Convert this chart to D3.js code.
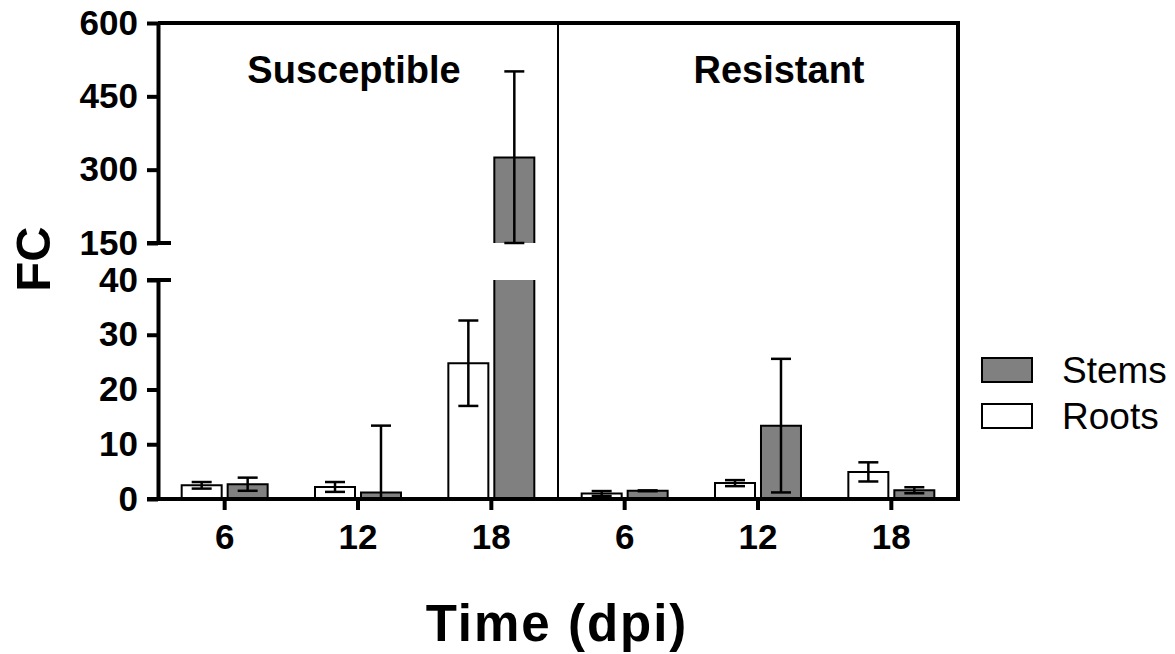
<!DOCTYPE html>
<html>
<head>
<meta charset="utf-8">
<script src="https://cdn.jsdelivr.net/npm/d3@7"></script>
<style>
  body { margin: 0; background: #fff; }
  svg { font-family: "Liberation Sans", Arial, sans-serif; }
</style>
</head>
<body>
<div id="chart"></div>
<script>
// chart values
var groups = ["Susceptible", "Resistant"]
var times = ["6", "12", "18"]
var series = ["Roots", "Stems"]
var rootsMean = [2.5, 2.2, 24.8, 1.0, 2.9, 4.95]
var rootsErr = [0.6, 0.9, 7.8, 0.45, 0.55, 1.75]
var stemsMean = [2.7, 1.2, 325, 1.5, 13.4, 1.6]
var stemsErr = [1.2, 12.2, 176, 0.08, 12.2, 0.55]
var lowTicks = [0, 10, 20, 30, 40]
var highTicks = [150, 300, 450, 600]

var width = 1175, height = 654
var left = 158, right = 958, bottom = 499
var lowTop = 280, highBottom = 243, topY = 23

var svg = d3.select("#chart").append("svg")
    .attr("width", width)
    .attr("height", height)

// one band per group/time pair
var keys = []
groups.forEach(function(g) {
  times.forEach(function(t) { keys.push(g + ":" + t) })
})

var data = keys.map(function(k, i) {
  return {
    key: k,
    values: [
      { s: "Roots", mean: rootsMean[i], err: rootsErr[i] },
      { s: "Stems", mean: stemsMean[i], err: stemsErr[i] }
    ]
  }
})

var x = d3.scaleBand().domain(keys).range([left, right])
var xs = d3.scaleBand().domain(series).range([0, x.bandwidth()])
    .paddingInner(0.13).paddingOuter(0.515)
var yLow = d3.scaleLinear().domain([0, 40]).range([bottom, lowTop])
var yHigh = d3.scaleLinear().domain([150, 600]).range([highBottom, topY])

var fill = { Roots: "#ffffff", Stems: "#808080" }

var bar = svg.selectAll("g.grp")
    .data(data)
  .enter().append("g")
    .attr("class", "grp")
    .attr("transform", function(d) { return "translate(" + x(d.key) + ",0)" })
  .selectAll("g.bar")
    .data(function(d) { return d.values })
  .enter().append("g")
    .attr("class", "bar")

// outline of a bar piece; the edge at the axis break stays open
function piece(x0, w, yb, yt, openTop, openBottom) {
  var p = "M" + x0 + "," + yb + "V" + yt
  p += openTop ? "M" + (x0 + w) + "," + yt : "H" + (x0 + w)
  p += "V" + yb
  if (!openBottom) p += "H" + x0
  return p
}

// lower piece
bar.append("rect")
    .attr("x", function(d) { return xs(d.s) })
    .attr("width", xs.bandwidth())
    .attr("y", function(d) { return yLow(Math.min(d.mean, 40)) })
    .attr("height", function(d) { return bottom - yLow(Math.min(d.mean, 40)) })
    .style("fill", function(d) { return fill[d.s] })
bar.append("path")
    .attr("d", function(d) {
      return piece(xs(d.s), xs.bandwidth(), bottom, yLow(Math.min(d.mean, 40)), d.mean > 40, false)
    })
    .style("fill", "none")
    .style("stroke", "#000")
    .style("stroke-width", 2)

// upper piece, only for the bar above the break
var tall = bar.filter(function(d) { return d.mean > 150 })
tall.append("rect")
    .attr("x", function(d) { return xs(d.s) })
    .attr("width", xs.bandwidth())
    .attr("y", function(d) { return yHigh(d.mean) })
    .attr("height", function(d) { return highBottom - yHigh(d.mean) })
    .style("fill", function(d) { return fill[d.s] })
tall.append("path")
    .attr("d", function(d) {
      return piece(xs(d.s), xs.bandwidth(), highBottom, yHigh(d.mean), false, true)
    })
    .style("fill", "none")
    .style("stroke", "#000")
    .style("stroke-width", 2)

// error bars
function ypos(v) { return v >= 150 ? yHigh(v) : yLow(Math.min(v, 40)) }
function errLo(d) {
  var lo = d.mean - d.err
  if (d.mean > 150) return Math.max(lo, 150)
  return Math.max(lo, 0)
}
var cap = 10

var eb = bar.append("g")
    .style("stroke", "#000")
    .style("stroke-width", 2.5)
eb.append("line")
    .attr("x1", function(d) { return xs(d.s) + xs.bandwidth() / 2 })
    .attr("x2", function(d) { return xs(d.s) + xs.bandwidth() / 2 })
    .attr("y1", function(d) { return ypos(errLo(d)) })
    .attr("y2", function(d) { return ypos(d.mean + d.err) })
eb.append("line")
    .attr("x1", function(d) { return xs(d.s) + xs.bandwidth() / 2 - cap })
    .attr("x2", function(d) { return xs(d.s) + xs.bandwidth() / 2 + cap })
    .attr("y1", function(d) { return ypos(d.mean + d.err) })
    .attr("y2", function(d) { return ypos(d.mean + d.err) })
eb.append("line")
    .attr("x1", function(d) { return xs(d.s) + xs.bandwidth() / 2 - cap })
    .attr("x2", function(d) { return xs(d.s) + xs.bandwidth() / 2 + cap })
    .attr("y1", function(d) { return ypos(errLo(d)) })
    .attr("y2", function(d) { return ypos(errLo(d)) })

// frame and divider
svg.append("line")
    .attr("x1", left).attr("x2", right + 2).attr("y1", topY).attr("y2", topY)
    .style("stroke", "#000").style("stroke-width", 4)
svg.append("line")
    .attr("x1", right).attr("x2", right).attr("y1", topY).attr("y2", bottom)
    .style("stroke", "#000").style("stroke-width", 4)
svg.append("line")
    .attr("x1", x(keys[3])).attr("x2", x(keys[3])).attr("y1", topY).attr("y2", bottom)
    .style("stroke", "#000").style("stroke-width", 2)

// axes
function styleAxis(g) {
  g.selectAll("path.domain").style("stroke-width", 4)
  g.selectAll(".tick line").style("stroke-width", 4)
  g.selectAll("text")
      .style("font-size", "35px")
      .style("font-weight", "bold")
      .style("fill", "#000")
      .style("font-family", "'Liberation Sans', Arial, sans-serif")
}

svg.append("g")
    .attr("transform", "translate(" + left + ",0)")
    .call(d3.axisLeft(yLow).tickValues(lowTicks).tickSize(11).tickSizeOuter(0).tickPadding(9))
    .call(styleAxis)

svg.append("g")
    .attr("transform", "translate(" + left + ",0)")
    .call(d3.axisLeft(yHigh).tickValues(highTicks).tickSize(11).tickSizeOuter(0).tickPadding(9))
    .call(styleAxis)

// break marks
svg.selectAll("line.brk")
    .data([yHigh(150), yLow(40)])
  .enter().append("line")
    .attr("class", "brk")
    .attr("x1", left - 11).attr("x2", left + 13)
    .attr("y1", function(d) { return d }).attr("y2", function(d) { return d })
    .style("stroke", "#000").style("stroke-width", 4)

svg.append("g")
    .attr("transform", "translate(0," + bottom + ")")
    .call(d3.axisBottom(x).tickSize(11).tickSizeOuter(0).tickPadding(14)
      .tickFormat(function(k) { return k.split(":")[1] }))
    .call(styleAxis)
    .call(function(g) {
      g.select("path.domain").attr("d", "M" + (left - 11) + ",0H" + (right + 2))
    })

// panel titles
svg.selectAll("text.grp")
    .data(groups)
  .enter().append("text")
    .attr("class", "grp")
    .attr("x", function(d, i) { return i == 0 ? 354 : 779 })
    .attr("y", 83)
    .attr("text-anchor", "middle")
    .style("font-size", "38px")
    .style("font-weight", "bold")
    .text(function(d) { return d })

// axis titles
svg.append("text")
    .attr("transform", "translate(50,259) rotate(-90)")
    .attr("text-anchor", "middle")
    .style("font-size", "49px")
    .style("font-weight", "bold")
    .text("FC")

svg.append("text")
    .attr("x", 557)
    .attr("y", 641)
    .attr("text-anchor", "middle")
    .style("font-size", "51px")
    .style("font-weight", "bold")
    .style("letter-spacing", "2px")
    .text("Time (dpi)")

// legend
var legend = svg.selectAll("g.legend")
    .data(["Stems", "Roots"])
  .enter().append("g")
    .attr("class", "legend")
    .attr("transform", function(d, i) { return "translate(982," + (358 + i * 46) + ")" })

legend.append("rect")
    .attr("width", 50)
    .attr("height", 24)
    .style("fill", function(d) { return fill[d] })
    .style("stroke", "#000")
    .style("stroke-width", 2)

legend.append("text")
    .attr("x", 80)
    .attr("y", 25)
    .style("font-size", "37px")
    .text(function(d) { return d })
</script>
</body>
</html>
